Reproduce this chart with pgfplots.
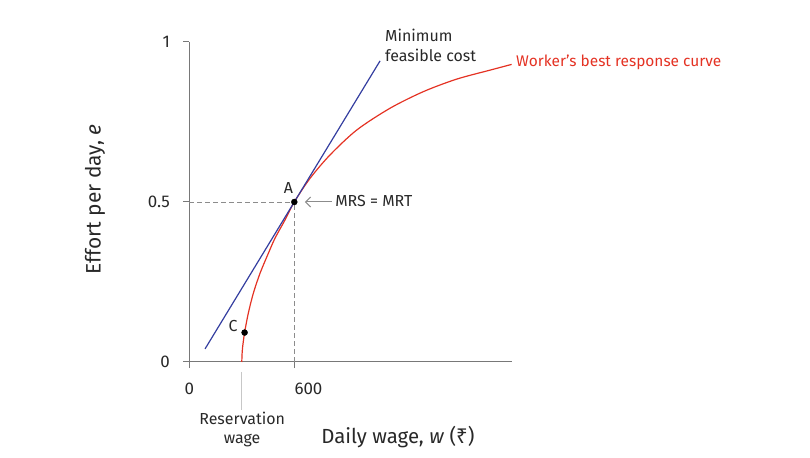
\documentclass[border=0pt]{standalone}
\usepackage{pgfplots}
\pgfplotsset{compat=1.18}
\usepackage{fontspec}
\setmainfont{Fira Sans}
\newfontfamily\rupee{Noto Sans}
\usetikzlibrary{arrows.meta}

\definecolor{curvered}{RGB}{228,50,35}
\definecolor{costblue}{RGB}{52,62,160}
\definecolor{axisgray}{RGB}{120,120,120}
\definecolor{dashgray}{RGB}{140,140,140}
\definecolor{textgray}{RGB}{40,40,40}

\begin{document}
\begin{tikzpicture}
\path[use as bounding box] (0,0) rectangle (810bp,458bp);
\begin{axis}[
    at={(189.3bp,96bp)}, anchor=south west,
    width=322.7bp, height=320bp, scale only axis,
    xmin=0, xmax=1844, ymin=0, ymax=1,
    axis x line=bottom, axis y line=left,
    axis line style={-, axisgray, line width=1bp},
    tick style={axisgray, line width=1bp},
    tick align=outside, major tick length=6bp,
    xtick={0,600}, xticklabels={},
    ytick={0,0.5,1}, yticklabels={},
    clip=false,
]
% worker's best response curve
\addplot[curvered, line width=1.2bp, smooth] coordinates {
(300,0)(301.5,0.024)(305,0.048)(316,0.092)(337,0.152)(366,0.215)(404,0.277)
(452,0.340)(490,0.387)(547,0.444)(600,0.5)(690,0.574)(804,0.647)(957,0.725)
(1147,0.793)(1338,0.845)(1528,0.884)(1718,0.912)(1842,0.930)
};
% minimum feasible cost
\addplot[costblue, line width=1.2bp] coordinates {(90,0.041)(1090,0.941)};
% dashed guides
\addplot[dashgray, dashed, dash pattern=on 5bp off 3bp, line width=0.8bp] coordinates {(0,0.5)(600,0.5)};
\addplot[dashgray, dashed, dash pattern=on 5bp off 3bp, line width=0.8bp] coordinates {(600,0)(600,0.5)};
% points
\addplot[only marks, mark=*, mark size=3bp, black] coordinates {(600,0.5)(316,0.092)};

\draw[black!22, line width=1bp] (axis cs:300,-0.031) -- (axis cs:300,-0.15);

% tick labels
\node[font=\fontsize{17}{20}\selectfont, text=textgray] at (axis cs:0,-0.084) {0};
\node[font=\fontsize{17}{20}\selectfont, text=textgray, anchor=west, inner sep=0pt] at (axis cs:600,-0.084) {600};
\node[font=\fontsize{17}{20}\selectfont, text=textgray, anchor=east, inner sep=0pt] at (axis cs:-110,0) {0};
\node[font=\fontsize{17}{20}\selectfont, text=textgray, anchor=east, inner sep=0pt] at (axis cs:-110,0.5) {0.5};
\node[font=\fontsize{17}{20}\selectfont, text=textgray, anchor=east, inner sep=0pt] at (axis cs:-110,1) {1};

\node[font=\fontsize{16}{19}\selectfont, text=textgray] at (axis cs:566,0.544) {A};
\node[font=\fontsize{16}{19}\selectfont, text=textgray] at (axis cs:250,0.1125) {C};
\draw[dashgray, line width=1bp, -{Straight Barb[length=5bp, width=10bp]}] (axis cs:814,0.5) -- (axis cs:661,0.5);
\node[font=\fontsize{16}{19}\selectfont, text=textgray, anchor=west, inner sep=0pt] at (axis cs:833,0.503) {MRS = MRT};
\node[font=\fontsize{16}{20}\selectfont, text=textgray, anchor=west, align=left, inner sep=0pt] at (axis cs:1118,0.99) {Minimum\\feasible cost};
\node[font=\fontsize{15.5}{19}\selectfont, text=curvered, anchor=west, inner sep=0pt] at (axis cs:1867,0.9375) {Worker’s best response curve};
\node[font=\fontsize{16}{19}\selectfont, text=textgray, anchor=north, align=center, inner sep=0pt] at (axis cs:302,-0.156) {Reservation\\wage};

\node[font=\fontsize{21}{24}\selectfont, text=textgray, rotate=90] at (axis cs:-539,0.509) {Effort per day, \textit{e}};
\node[font=\fontsize{20.5}{24}\selectfont, text=textgray] at (axis cs:1192,-0.234) {Daily wage, \textit{w} ({\rupee ₹})};
\end{axis}
\end{tikzpicture}
\end{document}
